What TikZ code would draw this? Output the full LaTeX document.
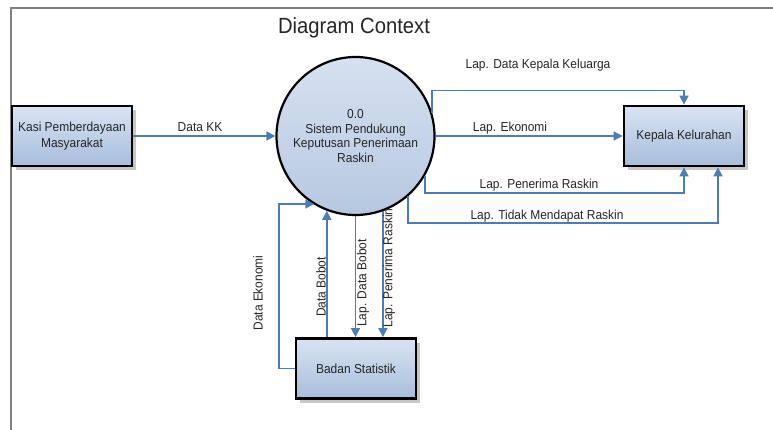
\documentclass[tikz,border=0pt]{standalone}
\usepackage{fontspec}
\setmainfont{Liberation Sans}[FakeStretch=0.92]
\usetikzlibrary{arrows.meta,calc,shadows}
\definecolor{flow}{HTML}{4A7EBB}
\definecolor{txt}{HTML}{262626}
\definecolor{boxtop}{HTML}{D9E4F2}
\definecolor{boxbot}{HTML}{A6BDDC}
\definecolor{proctop}{HTML}{D6E1F0}
\definecolor{procbot}{HTML}{B6C8E1}
\definecolor{frame}{HTML}{808080}
\begin{document}
\begin{tikzpicture}[x=1pt,y=-1pt,
  ent/.style={draw=black, line width=2.8pt, top color=boxtop, bottom color=boxbot,
    minimum width=120pt, minimum height=60pt, align=center, inner sep=2pt,
    font=\fontsize{13}{15.5}\selectfont, text=txt,
    drop shadow={shadow xshift=4pt, shadow yshift=-4pt, opacity=0.22, fill=black}},
  procnode/.style={circle, draw=black, line width=2.2pt, top color=proctop, bottom color=procbot,
    minimum size=158pt, inner sep=0pt, align=center,
    font=\fontsize{13}{14.5}\selectfont, text=txt},
  flowline/.style={draw=flow, line width=1.6pt, -{Triangle[length=9pt,width=9pt]}},
  lbl/.style={font=\fontsize{13}{15}\selectfont, text=txt, inner sep=0pt}
]
\useasboundingbox (0,0) rectangle (773,430);
\fill[white] (0,0) rectangle (773,430);
\draw[frame, line width=2pt] (10.5,430) -- (10.5,8) -- (773,8);

\node[font=\fontsize{22}{24}\selectfont, text=txt] (title) at (354,28) {Diagram Context};

\node[procnode] (proc) at (355.5,136) {0.0\\Sistem Pendukung\\Keputusan Penerimaan\\Raskin};
\node[ent] (kasi) at (72,136) {Kasi Pemberdayaan\\Masyarakat};
\node[ent] (kepala) at (684,136) {Kepala Kelurahan};
\node[ent] (badan) at (356,368.5) {Badan Statistik};

% flows
\draw[flowline] (kasi.east) -- (proc.west);
\coordinate (c1) at ($(kepala.north)+(0,-14)$);
\draw[flowline] (proc.17) |- (c1) -- (kepala.north);
\draw[flowline] (proc.east) -- (kepala.west);
\coordinate (c2) at (684,193);
\draw[flowline] (proc.-30) |- (c2) -- (kepala.south);
\coordinate (c3) at (718,223);
\draw[flowline] (proc.-49) |- (c3) -- (c3 |- kepala.south);
\coordinate (c4) at (279,204);
\draw[flowline] (badan.west) -| (c4) -- (c4 -| proc.239);
\draw[flowline] (badan.north -| proc.249) -- (proc.249);
\draw[flowline] (proc.south) -- (proc.south |- badan.north);
\draw[flowline] (proc.-70) -- (proc.-70 |- badan.north);

% labels
\node[lbl] (l1) at (200,127) {Data KK};
\node[lbl] (l2) at (538,65) {Lap. Data Kepala Keluarga};
\node[lbl] (l3) at (510,128) {Lap. Ekonomi};
\node[lbl] (l4) at (539,185) {Lap. Penerima Raskin};
\node[lbl] (l5) at (547,216) {Lap. Tidak Mendapat Raskin};
\node[lbl, rotate=90] (l6) at (258,293) {Data Ekonomi};
\node[lbl, rotate=90] (l7) at (321,287) {Data Bobot};
\node[lbl, rotate=90] (l8) at (363,283) {Lap. Data Bobot};
\node[lbl, rotate=90] (l9) at (389,268) {Lap. Penerima Raskin};
\end{tikzpicture}
\end{document}
